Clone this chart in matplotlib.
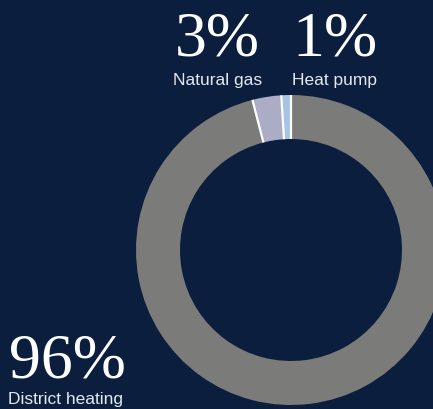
import matplotlib
matplotlib.use("Agg")
import matplotlib.pyplot as plt
import numpy as np

labels = ["Heat pump", "Natural gas", "District heating"]
values = [1, 3, 96]
pct_text = ["1%", "3%", "96%"]
colors = ["#a8c4e4", "#abadc6", "#7b7c7a"]

bg = "#0b1e3d"
W, H = 433, 409
fig = plt.figure(figsize=(W / 100, H / 100), dpi=100, facecolor=bg)
ax = fig.add_axes([0, 0, 1, 1])
ax.set_facecolor(bg)

cx, cy = 291, H - 250
R = 155
ring = 44
ax.pie(values, colors=colors, startangle=90, counterclock=True,
       center=(cx, cy), radius=R,
       wedgeprops=dict(width=ring, linewidth=0))
# white radial separators between slices
total = sum(values)
cum = np.cumsum([0] + values[:-1])
for c in cum:
    ang = np.deg2rad(90 + 360 * c / total)
    ax.plot([cx + (R - ring) * np.cos(ang), cx + R * np.cos(ang)],
            [cy + (R - ring) * np.sin(ang), cy + R * np.sin(ang)],
            color="white", lw=1.6, solid_capstyle="butt")
ax.set_xlim(0, W)
ax.set_ylim(0, H)
ax.set_aspect("equal")
ax.axis("off")

serif = ["Liberation Serif", "DejaVu Serif"]
sans = ["Liberation Sans", "DejaVu Sans"]
lab_col = "#e6e8ef"

# Natural gas
ax.text(217, H - 55, pct_text[1], fontsize=46, family=serif, color="white",
        ha="center", va="baseline")
ax.text(218, H - 85, labels[1], fontsize=12.5, family=sans, color=lab_col,
        ha="center", va="baseline")
# Heat pump
ax.text(335, H - 55, pct_text[0], fontsize=46, family=serif, color="white",
        ha="center", va="baseline")
ax.text(334, H - 85, labels[0], fontsize=12.5, family=sans, color=lab_col,
        ha="center", va="baseline")
# District heating
ax.text(9, H - 377, pct_text[2], fontsize=46, family=serif, color="white",
        ha="left", va="baseline")
ax.text(8, H - 404, labels[2], fontsize=12.5, family=sans, color=lab_col,
        ha="left", va="baseline")

fig.savefig("out.png", dpi=100, facecolor=bg)
